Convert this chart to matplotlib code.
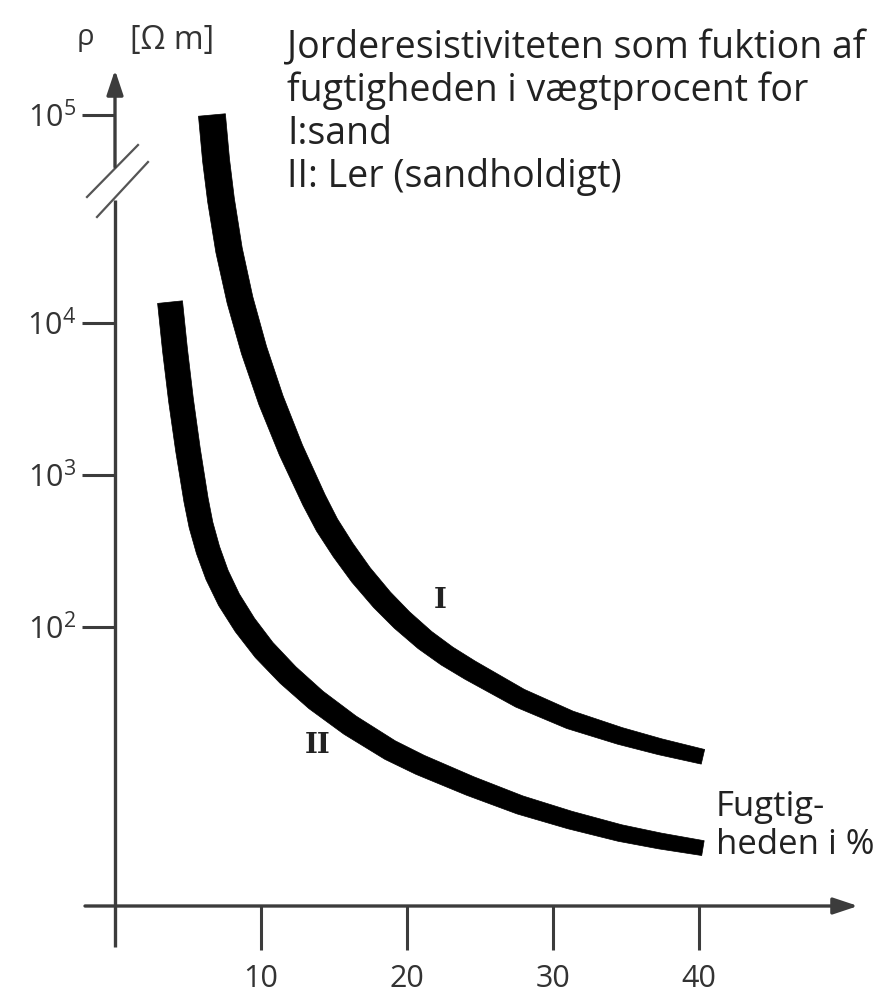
import numpy as np
import matplotlib
matplotlib.use('Agg')
import matplotlib.pyplot as plt
from matplotlib.patches import Polygon
from matplotlib.transforms import IdentityTransform

plt.rcParams['font.family'] = ['Open Sans', 'DejaVu Sans']
plt.rcParams['mathtext.default'] = 'regular'

# ---data (fugtighed i %, resistivitet i Ohm m)
moist_I = [6.64, 6.92, 7.26, 7.81, 8.56, 9.52, 10.68, 12.05, 13.63, 14.52, 15.62,
           16.85, 18.29, 19.66, 21.23, 22.74, 24.32, 27.74, 31.16, 34.59, 37.33, 40.27]
rho_I = [1.0e5, 6.08e4, 3.9e4, 2.24e4, 1.29e4, 6640, 3110, 1460, 685, 469, 321,
         220, 151, 111, 82, 64.4, 52, 34, 24.5, 19.2, 16.3, 14.0]
moist_II = [3.77, 4.11, 4.52, 5.0, 5.55, 5.89, 6.37, 6.99, 7.81, 8.90, 10.21,
            11.85, 13.77, 16.10, 18.84, 20.89, 24.32, 27.74, 31.16, 34.59, 37.33, 40.27]
rho_II = [1.26e4, 6640, 3110, 1460, 685, 469, 321, 220, 151, 103, 70.6,
          48.3, 33.1, 22.6, 15.5, 12.4, 9.0, 6.75, 5.37, 4.41, 3.91, 3.51]
xticks = [10, 20, 30, 40]
yticks = [1e2, 1e3, 1e4, 1e5]
ylabels = ['$10^{2}$', '$10^{3}$', '$10^{4}$', '$10^{5}$']
title = ('Jorderesistiviteten som fuktion af\nfugtigheden i vægtprocent for\n'
         'I:sand\nII: Ler (sandholdigt)')

# ---broken log axis: decade 10^4..10^5 is drawn stretched
K = 208 / 152


def fwd(r):
    L = np.log10(np.maximum(r, 1e-300))
    return np.where(L <= 4, L, 4 + (L - 4) * K)


def inv(p):
    p = np.asarray(p, dtype=float)
    return np.where(p <= 4, 10.0 ** p, 10.0 ** (4 + (p - 4) / K))


AX_COL = '#3c3c3c'
fig = plt.figure(figsize=(8.86, 9.97), dpi=100)
ax = fig.add_axes([0, 0, 1, 1])
ax.set_yscale('function', functions=(fwd, inv))
ax.set_xlim(-115 / 14.6, (886 - 115) / 14.6)
ax.set_ylim(float(inv(2 - 370 / 152)), float(inv(2 + 627 / 152)))

for s in ['top', 'right']:
    ax.spines[s].set_visible(False)
ax.spines['left'].set_position(('data', 0))
ax.spines['bottom'].set_position(('axes', 1 - 906 / 997))
ax.spines['left'].set_visible(False)
ax.spines['bottom'].set_visible(False)

ax.set_xticks(xticks)
ax.set_xticklabels([str(t) for t in xticks])
ax.set_yticks(yticks)
ax.set_yticklabels(ylabels)
ax.minorticks_off()
ax.tick_params(axis='x', direction='out', length=32, width=2.2, color=AX_COL,
               labelsize=22, pad=10, labelcolor='#333333')
ax.tick_params(axis='y', direction='out', length=24, width=2.2, color=AX_COL,
               labelsize=22, pad=4, labelcolor='#333333')

# ---axis lines with arrows
xa = ax.get_xaxis_transform()
y0 = 1 - 906 / 997
ax.annotate('', xy=((858 - 115) / 14.6, y0), xytext=((85 - 115) / 14.6, y0),
            xycoords=xa, textcoords=xa,
            arrowprops=dict(arrowstyle='-|>,head_length=1.5,head_width=0.5',
                            lw=2.4, color=AX_COL, shrinkA=0, shrinkB=0))
ax.plot([0, 0], [1 - 947 / 997, 1 - 200 / 997], transform=xa,
        color=AX_COL, lw=2.4, solid_capstyle='butt')
ax.annotate('', xy=(0, 1 - 70 / 997), xytext=(0, 1 - 167 / 997),
            xycoords=xa, textcoords=xa,
            arrowprops=dict(arrowstyle='-|>,head_length=1.5,head_width=0.5',
                            lw=2.4, color=AX_COL, shrinkA=0, shrinkB=0))
# break slashes
for (xs, ys) in [((87, 138), (197, 145)), ((97, 148), (217, 162))]:
    ax.plot([(v - 115) / 14.6 for v in xs], [1 - v / 997 for v in ys],
            transform=xa, color='#555555', lw=1.6)


# ---thick tapering curves
def thick_curve(x, r, w0, w1):
    pts = ax.transData.transform(np.column_stack([x, r]))
    d = np.gradient(pts, axis=0)
    d /= np.linalg.norm(d, axis=1)[:, None]
    n = np.column_stack([-d[:, 1], d[:, 0]])
    s = np.concatenate([[0], np.cumsum(np.linalg.norm(np.diff(pts, axis=0), axis=1))])
    w = (w0 - (w0 - w1) * (s / s[-1]) ** 2)[:, None] / 2
    poly = np.vstack([pts + n * w, (pts - n * w)[::-1]])
    ax.add_patch(Polygon(poly, closed=True, transform=IdentityTransform(),
                         facecolor='black', edgecolor='black', lw=0.5,
                         joinstyle='round'))


thick_curve(moist_I, rho_I, 27, 15)
thick_curve(moist_II, rho_II, 25, 15)

# ---labels
ax.text(22.3, 150, 'I', family='DejaVu Serif', fontweight='bold', fontsize=20,
        ha='center', va='center', color='#222222')
ax.text(13.9, 16.5, 'II', family='DejaVu Serif', fontweight='bold', fontsize=20,
        ha='center', va='center', color='#222222')
ax.text(287 / 886, 1 - 29 / 997, title, transform=ax.transAxes, fontsize=27,
        ha='left', va='top', linespacing=1.16, color='#222222')
ax.text(85 / 886, 1 - 38 / 997, 'ρ', transform=ax.transAxes, fontsize=21,
        ha='center', va='center', color='#333333')
ax.text(172 / 886, 1 - 40 / 997, '[Ω m]', transform=ax.transAxes, fontsize=23,
        ha='center', va='center', color='#333333')
ax.text(716 / 886, 1 - 826 / 997, 'Fugtig-\nheden i %', transform=ax.transAxes,
        fontsize=25, ha='left', va='center', linespacing=1.15, color='#222222')

fig.savefig('out.png', dpi=100)
